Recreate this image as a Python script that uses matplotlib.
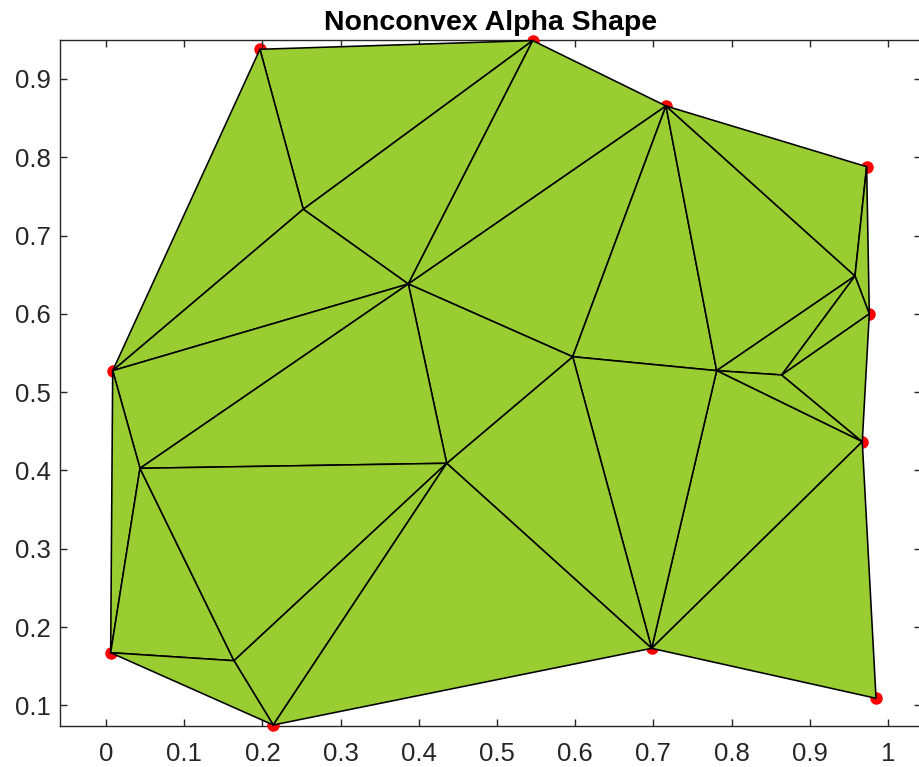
import numpy as np
import matplotlib
matplotlib.use("Agg")
import matplotlib.pyplot as plt
from matplotlib.collections import PolyCollection

# Point coordinates (A..T)
x = [0.1969, 0.5457, 0.7161, 0.9727, 0.9761, 0.9671, 0.9847, 0.6978, 0.2139, 0.0060,
     0.0086, 0.2523, 0.3866, 0.5968, 0.7809, 0.8641, 0.9578, 0.4357, 0.0435, 0.1637]
y = [0.9379, 0.9490, 0.8655, 0.7880, 0.6000, 0.4368, 0.1091, 0.1729, 0.0750, 0.1673,
     0.5275, 0.7336, 0.6382, 0.5453, 0.5275, 0.5220, 0.6484, 0.4092, 0.4028, 0.1571]

# Triangle connectivity of the alpha shape
triangles = [
    (0, 1, 11), (0, 11, 10), (11, 1, 12), (11, 12, 10), (1, 12, 2),
    (12, 2, 13), (2, 13, 14), (2, 14, 16), (2, 16, 3), (3, 16, 4),
    (16, 14, 15), (16, 15, 4), (14, 15, 5), (15, 4, 5), (14, 5, 7),
    (14, 13, 7), (13, 17, 7), (12, 13, 17), (10, 12, 18), (12, 18, 17),
    (10, 18, 9), (9, 18, 19), (18, 19, 17), (19, 17, 8), (17, 8, 7),
    (9, 19, 8), (5, 6, 7),
]

xticks = [0, 0.1, 0.2, 0.3, 0.4, 0.5, 0.6, 0.7, 0.8, 0.9, 1]
xticklabels = ["0", "0.1", "0.2", "0.3", "0.4", "0.5", "0.6", "0.7", "0.8", "0.9", "1"]
yticks = [0.1, 0.2, 0.3, 0.4, 0.5, 0.6, 0.7, 0.8, 0.9]
yticklabels = ["0.1", "0.2", "0.3", "0.4", "0.5", "0.6", "0.7", "0.8", "0.9"]
title = "Nonconvex Alpha Shape"

plt.rcParams['font.family'] = ['Liberation Sans', 'DejaVu Sans']

fig = plt.figure(figsize=(9.2, 7.67), dpi=100)
W, H = 920, 767
left_px, right_px, top_px, bottom_px = 60.3, 921.0, 40.2, 725.7
ax = fig.add_axes([left_px / W, 1 - bottom_px / H,
                   (right_px - left_px) / W, (bottom_px - top_px) / H])

xa = np.array(x)
ya = np.array(y)
tri = np.array(triangles)

ax.plot(xa, ya, 'o', color='red', markersize=9, markeredgewidth=0, zorder=1,
        clip_on=False)

verts = np.stack([xa[tri], ya[tri]], axis=-1)
pc = PolyCollection(verts, facecolor='#9ACD32', edgecolor='black',
                    linewidth=1.15, zorder=2, clip_on=False)
ax.add_collection(pc)

ax.set_xlim(-0.0584, 1.0422)
ax.set_ylim(0.0741, 0.9495)

ax.set_xticks(xticks)
ax.set_xticklabels(xticklabels)
ax.set_yticks(yticks)
ax.set_yticklabels(yticklabels)

gray = (0.15, 0.15, 0.15)
for s in ax.spines.values():
    s.set_color(gray)
    s.set_linewidth(1.0)
    s.set_zorder(0.5)
ax.tick_params(axis='both', direction='in', length=5, width=1.0, color=gray,
               labelcolor=gray, labelsize=18.5, top=True, right=True)
ax.tick_params(axis='x', pad=12)
ax.tick_params(axis='y', pad=7)

ax.set_title(title, fontsize=20.5, fontweight='bold', pad=7)

fig.savefig("out.png", dpi=100)
